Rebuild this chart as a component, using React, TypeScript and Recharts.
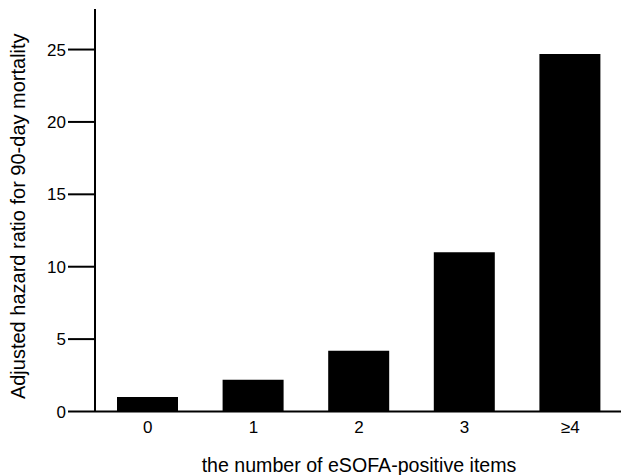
import { Bar, BarChart, XAxis, YAxis } from 'recharts';

const categories = ['0', '1', '2', '3', '≥4'];
const hazardRatios = [1.0, 2.2, 4.2, 11.0, 24.7];
const yTicks = [0, 5, 10, 15, 20, 25];

const data = categories.map((name, i) => ({ name, value: hazardRatios[i] }));

const font = 'Liberation Sans, Arial, sans-serif';

export default function App() {
  return (
    <div style={{ position: 'absolute', left: 0, top: 0, width: 621, height: 475, overflow: 'hidden', background: '#fff' }}>
      <BarChart
        width={623}
        height={475}
        data={data}
        margin={{ top: 9, right: 0, bottom: 0, left: 0 }}
        barSize={61}
      >
        <XAxis
          dataKey="name"
          height={63.5}
          tickLine={false}
          axisLine={{ stroke: '#000', strokeWidth: 2 }}
          tick={{ fill: '#000', fontSize: 17, fontFamily: font }}
          tickMargin={3}
          label={{
            value: 'the number of eSOFA-positive items',
            position: 'insideBottom',
            offset: 3,
            fill: '#000',
            fontSize: 19.6,
            fontFamily: font,
          }}
        />
        <YAxis
          width={95}
          domain={[0, 27.8]}
          ticks={yTicks}
          tickSize={27}
          tickMargin={2}
          tickLine={{ stroke: '#000', strokeWidth: 2 }}
          axisLine={{ stroke: '#000', strokeWidth: 2 }}
          tick={{ fill: '#000', fontSize: 17, fontFamily: font }}
          label={{
            value: 'Adjusted hazard ratio for 90-day mortality',
            angle: -90,
            position: 'insideLeft',
            offset: 18,
            dy: 6,
            fill: '#000',
            fontSize: 20,
            fontFamily: font,
            style: { textAnchor: 'middle' },
          }}
        />
        <Bar dataKey="value" fill="#000" isAnimationActive={false} />
      </BarChart>
    </div>
  );
}
